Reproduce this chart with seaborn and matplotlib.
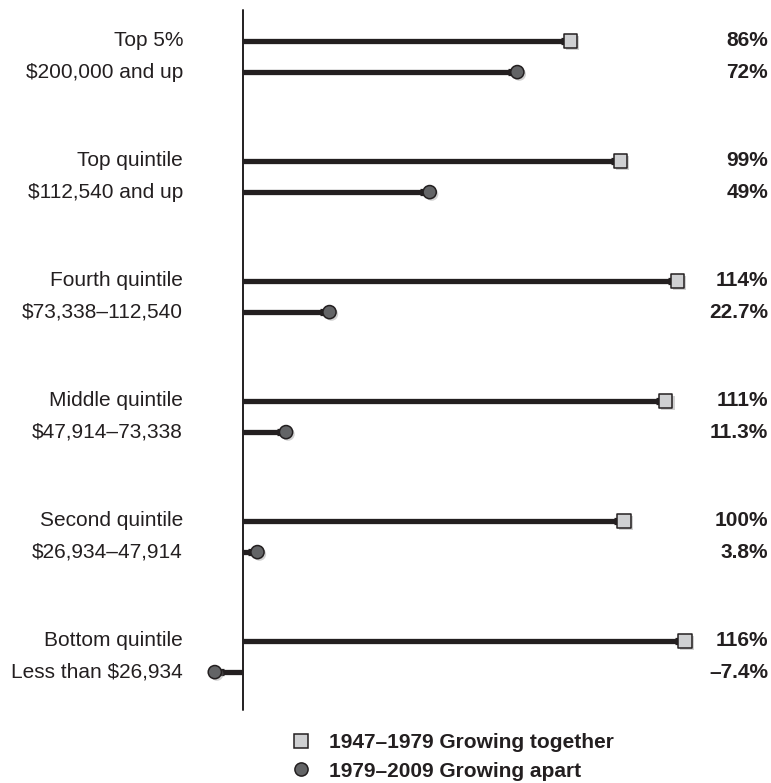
import pandas as pd
import matplotlib.pyplot as plt
import matplotlib.patheffects as pe
import seaborn as sns

groups = ['Top 5%', 'Top quintile', 'Fourth quintile', 'Middle quintile',
          'Second quintile', 'Bottom quintile']
ranges = ['$200,000 and up', '$112,540 and up', '$73,338\u2013112,540',
          '$47,914\u201373,338', '$26,934\u201347,914', 'Less than $26,934']
together = [86, 99, 114, 111, 100, 116]
apart = [72, 49, 22.7, 11.3, 3.8, -7.4]
together_lbl = ['86%', '99%', '114%', '111%', '100%', '116%']
apart_lbl = ['72%', '49%', '22.7%', '11.3%', '3.8%', '\u20137.4%']
periods = ['1947\u20131979 Growing together', '1979\u20132009 Growing apart']

INK = '#231f20'
FS = 15

df = pd.DataFrame({
    'value': together + apart,
    'row': [i - 0.13 for i in range(6)] + [i + 0.13 for i in range(6)],
    'period': [periods[0]] * 6 + [periods[1]] * 6,
})

sns.set_style('white')
plt.rcParams['font.family'] = ['Liberation Sans', 'DejaVu Sans']

fig = plt.figure(figsize=(7.71, 7.83), dpi=100)
ax = fig.add_axes([0, 0, 1, 1])
ax.set_xlim(-243 / 3.81, (771 - 243) / 3.81)
ax.set_ylim(6.054, -0.471)
ax.axis('off')

# stems, with a slightly thicker end near the marker
ax.hlines(df['row'], 0, df['value'], color=INK, lw=3.8, zorder=2)
tip = df['value'].apply(lambda v: v - 2.5 if v > 0 else v + 2.5)
ax.hlines(df['row'], tip, df['value'], color=INK, lw=5.2, zorder=2)
ax.axvline(0, ymin=1 - 710 / 783, ymax=1 - 10 / 783, color=INK, lw=1.4, zorder=3)

shadow = [pe.SimplePatchShadow(offset=(1.5, -1.5), shadow_rgbFace='0.5', alpha=0.35), pe.Normal()]
sns.scatterplot(data=df, x='value', y='row', hue='period', style='period',
                palette=['#cfd0d2', '#636466'], markers=['s', 'o'], s=90,
                edgecolor=INK, linewidth=1.1, zorder=4, ax=ax)
ax.collections[-1].set_path_effects(shadow)

for i in range(6):
    ax.text(183 / 771, i - 0.13, groups[i], transform=ax.get_yaxis_transform(),
            ha='right', va='center', fontsize=FS, color=INK)
    ax.text(183 / 771, i + 0.13, ranges[i], transform=ax.get_yaxis_transform(),
            ha='right', va='center', fontsize=FS, color=INK)
    ax.text(768 / 771, i - 0.13, together_lbl[i], transform=ax.get_yaxis_transform(),
            ha='right', va='center', fontsize=FS, fontweight='bold', color=INK)
    ax.text(768 / 771, i + 0.13, apart_lbl[i], transform=ax.get_yaxis_transform(),
            ha='right', va='center', fontsize=FS, fontweight='bold', color=INK)

sns.move_legend(ax, 'upper left', bbox_to_anchor=(0.363, 0.077),
                bbox_transform=fig.transFigure, frameon=False, title=None,
                borderpad=0, handlelength=1, handletextpad=0.85, labelspacing=0.45,
                prop={'weight': 'bold', 'size': FS})
for t in ax.get_legend().get_texts():
    t.set_color(INK)

fig.savefig('out.png', dpi=100)
